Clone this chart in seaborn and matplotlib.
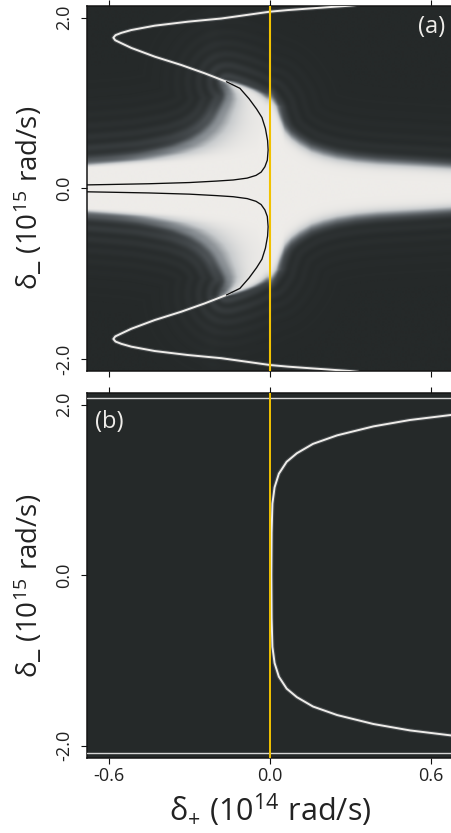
import numpy as np
import matplotlib
matplotlib.use("Agg")
import matplotlib.pyplot as plt
from matplotlib.colors import LinearSegmentedColormap
import seaborn as sns

# ---------------- axes ----------------
X_LIM = (-0.68, 0.68)
Y_LIM = (-2.14, 2.14)
x_ticks = [-0.6, 0.0, 0.6]
x_tick_labels = ["-0.6", "0.0", "0.6"]
y_ticks = [-2.0, 0.0, 2.0]
y_tick_labels = ["-2.0", "0.0", "2.0"]

# ---------------- panel (a) ----------------
# narrow resonance ridge, upper branch (lower branch is its mirror image)
ridge_x = [0.33, 0.297, 0.15, 0.067, 0.0, -0.09, -0.181, -0.305, -0.429, -0.516,
           -0.553, -0.575, -0.583, -0.576, -0.553, -0.516, -0.429, -0.330,
           -0.243, -0.162, -0.145]
ridge_y = [2.15, 2.14, 2.108, 2.089, 2.07, 2.03, 1.99, 1.953, 1.906, 1.855,
           1.822, 1.795, 1.765, 1.735, 1.700, 1.645, 1.543, 1.445,
           1.348, 1.249, 1.225]

# black branch inside the bright lobe, upper half
branch_x = [-0.162, -0.112, -0.078, -0.050, -0.030, -0.017, -0.009, -0.007,
            -0.010, -0.019, -0.033, -0.052, -0.085, -0.137, -0.20, -0.30,
            -0.45, -0.60, -0.69]
branch_y = [1.249, 1.172, 1.050, 0.930, 0.830, 0.700, 0.560, 0.450,
            0.330, 0.253, 0.190, 0.152, 0.120, 0.098, 0.085, 0.068,
            0.054, 0.045, 0.040]

# bright band: half-level upper edge along delta_+
band_x = [-0.68, -0.50, -0.30, -0.15, -0.05, 0.000, 0.011, 0.024, 0.035,
          0.055, 0.080, 0.110, 0.154, 0.20, 0.25, 0.32, 0.40, 0.48, 0.56, 0.68]
band_top = [0.25, 0.26, 0.28, 0.32, 0.45, 1.05, 1.00, 0.918, 0.82,
            0.683, 0.60, 0.53, 0.449, 0.40, 0.36, 0.325, 0.30, 0.285, 0.27, 0.245]
band_soft = [0.035, 0.035, 0.035, 0.038, 0.045, 0.055, 0.055, 0.05, 0.045,
             0.045, 0.042, 0.042, 0.04, 0.04, 0.038, 0.036, 0.035, 0.034, 0.033, 0.032]

# bright lobe: half-level left/right edges along delta_-
lobe_y = [0.00, 0.20, 0.253, 0.30, 0.33, 0.41, 0.49, 0.566, 0.66, 0.762, 0.86,
          0.956, 1.04, 1.10, 1.15, 1.20, 1.25, 1.30]
lobe_left = [-1.5, -1.2, -0.72, -0.56, -0.47, -0.35, -0.28, -0.24, -0.205, -0.18,
             -0.165, -0.15, -0.14, -0.14, -0.145, -0.155, -0.17, -0.20]
lobe_left_soft = [0.03, 0.03, 0.05, 0.06, 0.06, 0.06, 0.055, 0.05, 0.045, 0.04,
                  0.035, 0.03, 0.025, 0.02, 0.016, 0.012, 0.01, 0.01]
lobe_right = [0.03, 0.03, 0.03, 0.03, 0.03, 0.03, 0.03, 0.03, 0.03, 0.03,
              0.025, 0.02, -0.005, -0.03, -0.06, -0.10, -0.15, -0.25]

# ---------------- panel (b) ----------------
curve_b_x = [0.69, 0.521, 0.385, 0.25, 0.16, 0.10, 0.062, 0.033, 0.017, 0.009, 0.006, 0.005]
curve_b_y = [1.885, 1.82, 1.745, 1.64, 1.54, 1.43, 1.33, 1.19, 1.03, 0.84, 0.50, 0.0]
edge_level_b = 2.08

# ---------------- colours ----------------
DARK = "#252929"
WHITE = "#eeece9"
YELLOW = "#f2c200"
cmap = LinearSegmentedColormap.from_list(
    "glow", [(0.0, DARK), (0.2, "#43484b"), (0.45, "#80868b"),
             (0.72, "#c8cbcd"), (1.0, WHITE)])

PANEL_PX = 365.0


def sig(t):
    return 1.0 / (1.0 + np.exp(-np.clip(t, -60, 60)))


def intensity_map(n=730, step=3):
    xs = np.linspace(*X_LIM, n)
    ys = np.linspace(*Y_LIM, n)
    XX, YY = np.meshgrid(xs, ys)
    A = np.abs(YY)

    top = np.interp(xs, band_x, band_top)[None, :]
    soft = np.interp(xs, band_x, band_soft)[None, :]
    band = sig((top - A) / soft)

    xl = np.interp(A, lobe_y, lobe_left)
    sl = np.interp(A, lobe_y, lobe_left_soft)
    xr = np.interp(A, lobe_y, lobe_right)
    lobe = sig((XX - xl) / sl) * sig((xr - XX) / 0.012)

    base = 1 - (1 - band) * (1 - lobe)

    # half-level outline of the bright region, in pixel units
    tmp_fig, tmp_ax = plt.subplots()
    segs = tmp_ax.contour(xs, ys, base, levels=[0.5]).allsegs[0]
    plt.close(tmp_fig)
    pts = np.concatenate(segs)[::2]
    bx = (pts[:, 0] - X_LIM[0]) / (X_LIM[1] - X_LIM[0]) * PANEL_PX
    by = (pts[:, 1] - Y_LIM[0]) / (Y_LIM[1] - Y_LIM[0]) * PANEL_PX

    # distance from the outline on a coarse grid
    cidx = np.arange(0, n, step)
    cpx = cidx / (n - 1) * PANEL_PX
    d = np.empty((cidx.size, cidx.size))
    for r, yp in enumerate(cpx):
        dy2 = (yp - by) ** 2
        d[r] = np.sqrt((cpx[:, None] - bx[None, :]) ** 2 + dy2[None, :]).min(axis=1)

    idx = np.arange(n)
    d1 = np.array([np.interp(idx, cidx, row) for row in d])
    dist = np.array([np.interp(idx, cidx, col) for col in d1.T]).T
    dist[base > 0.5] = 0.0

    # soft halo and interference fringes around the bright region
    left_side = sig(-(XX + 0.05) / 0.05)
    amp = 0.06 + 0.07 * left_side
    halo = (0.03 + 0.05 * left_side) * np.exp(-dist / 28.0)
    fr = amp * np.exp(-dist / 24.0) * np.sin(np.pi * dist / 11.0) ** 2
    return base + (1 - base) * (fr + halo)


sns.set_theme(style="ticks")
plt.rcParams["font.family"] = ["Open Sans", "DejaVu Sans"]
plt.rcParams["mathtext.fontset"] = "custom"
plt.rcParams["mathtext.rm"] = "Open Sans"
plt.rcParams["mathtext.it"] = "Open Sans:italic"
plt.rcParams["mathtext.bf"] = "Open Sans:bold"

field = intensity_map()

W, H = 452, 833
fig = plt.figure(figsize=(W / 100, H / 100), dpi=100)
fig.patch.set_facecolor("white")

left = 87.3 / W
width = (452.7 - 87.3) / W
ax_a = fig.add_axes([left, (H - 371.0) / H, width, 365.3 / H])
ax_b = fig.add_axes([left, (H - 757.7) / H, width, 365.0 / H])

# ---- panel (a) ----
ax_a.imshow(field, extent=[*X_LIM, *Y_LIM], origin="lower", cmap=cmap,
            vmin=0, vmax=1, aspect="auto", interpolation="bilinear", zorder=0)

for sgn in (1, -1):
    ry = [sgn * v for v in ridge_y]
    sns.lineplot(x=ridge_x, y=ry, sort=False, estimator=None, ax=ax_a,
                 color="#8d9398", lw=3.0, alpha=0.3, zorder=2)
    sns.lineplot(x=ridge_x, y=ry, sort=False, estimator=None, ax=ax_a,
                 color=WHITE, lw=1.4, zorder=3)
    sns.lineplot(x=branch_x, y=[sgn * v for v in branch_y], sort=False,
                 estimator=None, ax=ax_a, color="#0d0d0d", lw=0.95, zorder=4)

ax_a.axvline(0.0, color=YELLOW, lw=1.5, zorder=5)
ax_a.text(0.60, 1.89, "(a)", color=WHITE, fontsize=17, ha="center",
          va="center", zorder=6)

# ---- panel (b) ----
ax_b.set_facecolor(DARK)
full_x = curve_b_x + curve_b_x[::-1][1:]
full_y = curve_b_y + [-v for v in curve_b_y[::-1][1:]]
sns.lineplot(x=full_x, y=full_y, sort=False, estimator=None, ax=ax_b,
             color="#8d9398", lw=3.0, alpha=0.3, zorder=2)
sns.lineplot(x=full_x, y=full_y, sort=False, estimator=None, ax=ax_b,
             color=WHITE, lw=1.4, zorder=3)
for lv in (edge_level_b, -edge_level_b):
    ax_b.axhline(lv, color="#d6d6d6", lw=1.0, zorder=3)
ax_b.axvline(0.0, color=YELLOW, lw=1.4, zorder=5)
ax_b.text(-0.60, 1.80, "(b)", color=WHITE, fontsize=17, ha="center",
          va="center", zorder=6)

for ax in (ax_a, ax_b):
    ax.set_xlim(*X_LIM)
    ax.set_ylim(*Y_LIM)
    ax.set_xticks(x_ticks)
    ax.set_xticklabels(x_tick_labels)
    ax.set_yticks(y_ticks)
    ax.set_yticklabels(y_tick_labels, rotation=90, va="center")
    ax.set_xlabel("")
    ax.set_ylabel("")
    ax.tick_params(axis="both", direction="out", length=4.0, width=0.8,
                   color="#111111", labelsize=13, labelcolor="#222222",
                   top=True, bottom=True, left=True, right=False)
    ax.tick_params(axis="y", pad=6)
    ax.tick_params(axis="x", pad=3)
    for sp in ax.spines.values():
        sp.set_color("#151515")
        sp.set_linewidth(1.1)
    ax.grid(False)

ax_a.tick_params(axis="x", labelbottom=False)

fig.text(270 / W, 1 - 810 / H, r"$\mathregular{\delta_{+}\ (10^{14}\ rad/s)}$",
         fontsize=22, color="#222222", ha="center", va="center")
y_label = r"$\mathregular{\delta\_\ (10^{15}\ rad/s)}$"
for yc in (198, 586):
    fig.text(29 / W, 1 - yc / H, y_label, rotation=90, fontsize=20,
             color="#222222", ha="center", va="center")

fig.savefig("out.png", dpi=100, facecolor="white")
